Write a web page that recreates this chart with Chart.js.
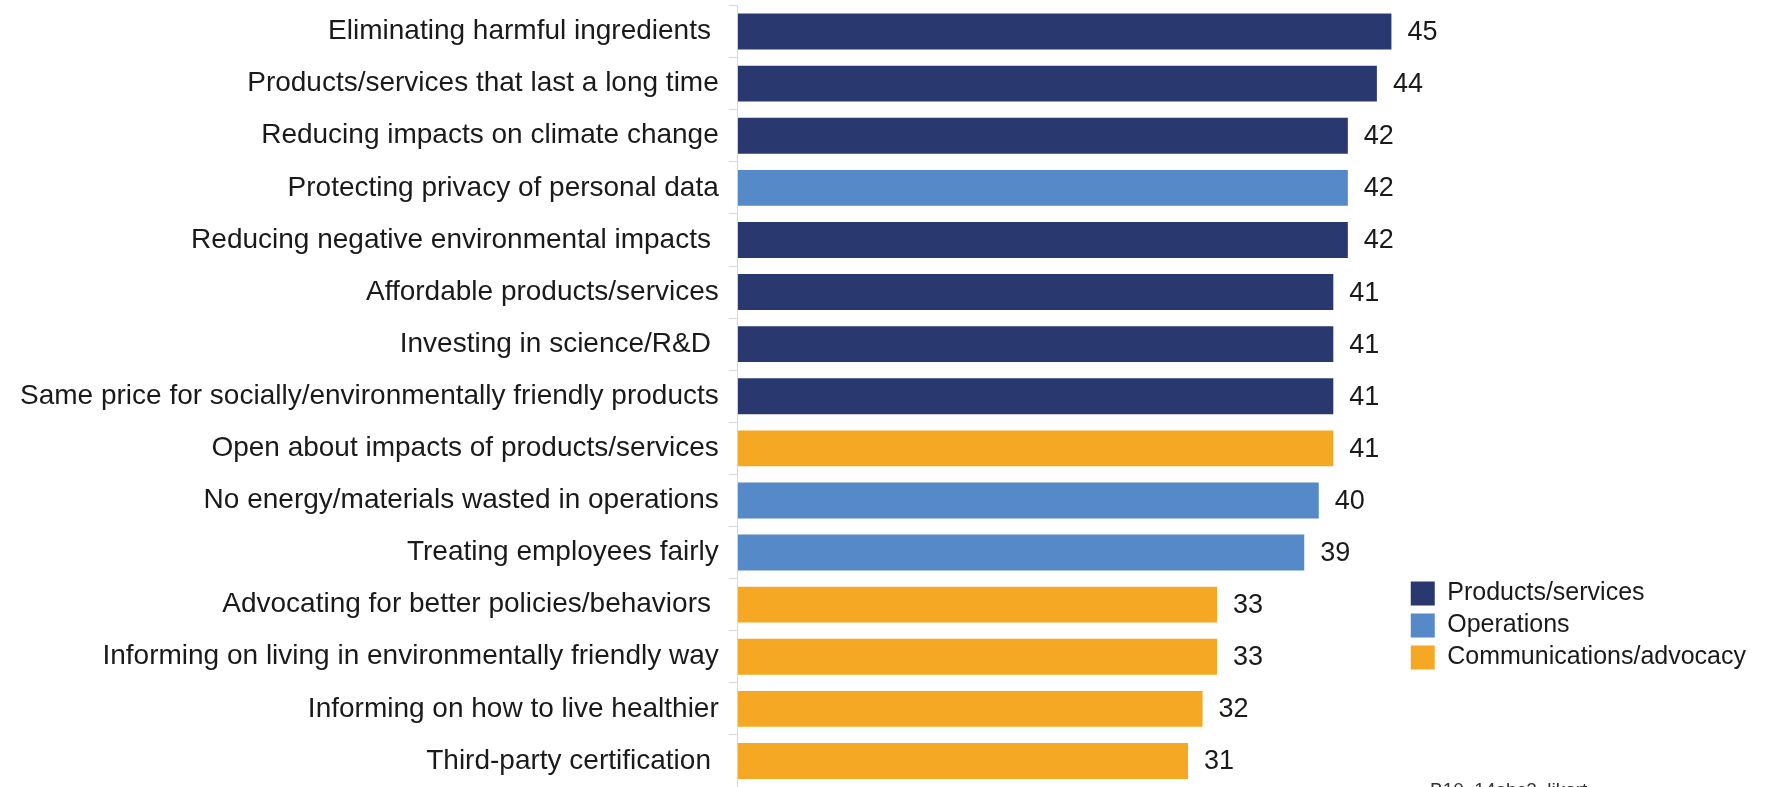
<!DOCTYPE html>
<html>
<head>
<meta charset="utf-8">
<script src="https://cdn.jsdelivr.net/npm/chart.js@4/dist/chart.umd.min.js"></script>
<style>
  html, body { margin: 0; padding: 0; background: #ffffff; }
  #wrap { width: 1768px; height: 787px; position: relative; }
</style>
</head>
<body>
<div id="wrap"><canvas id="chart"></canvas></div>
<script>
// Attributes, in the order they are listed (top to bottom)
const categories = [
  'Eliminating harmful ingredients ',
  'Products/services that last a long time',
  'Reducing impacts on climate change',
  'Protecting privacy of personal data',
  'Reducing negative environmental impacts ',
  'Affordable products/services',
  'Investing in science/R&D ',
  'Same price for socially/environmentally friendly products',
  'Open about impacts of products/services',
  'No energy/materials wasted in operations',
  'Treating employees fairly',
  'Advocating for better policies/behaviors ',
  'Informing on living in environmentally friendly way',
  'Informing on how to live healthier',
  'Third-party certification '
];

// Percent values per attribute
const values = [45, 44, 42, 42, 42, 41, 41, 41, 41, 40, 39, 33, 33, 32, 31];

// Which area each attribute belongs to
const areas = ['P', 'P', 'P', 'O', 'P', 'P', 'P', 'P', 'C', 'O', 'O', 'C', 'C', 'C', 'C'];

// Areas shown in the legend
const areaKeys   = ['P', 'O', 'C'];
const areaNames  = ['Products/services', 'Operations', 'Communications/advocacy'];
const areaColors = ['#29386f', '#5589c8', '#f5a823'];

const footnote = 'B10_14abc2_likert';

const FONT = "'Liberation Sans', Arial, sans-serif";
const LABEL_SIZE = 28;
const LABEL_PAD = 10;
const TICK_LEN = 9;

// One dataset per area; attributes of other areas are left empty
const datasets = areaKeys.map((key, i) => ({
  label: areaNames[i],
  data: values.map((v, j) => (areas[j] === key ? v : null)),
  backgroundColor: areaColors[i],
  borderWidth: 0,
  grouped: false,
  barPercentage: 0.69,
  categoryPercentage: 1.0
}));

// Writes the value to the right of each bar
const valueLabels = {
  id: 'valueLabels',
  afterDatasetsDraw(chart) {
    const ctx = chart.ctx;
    ctx.save();
    ctx.font = '27px ' + FONT;
    ctx.fillStyle = '#1a1a1a';
    ctx.textAlign = 'left';
    ctx.textBaseline = 'middle';
    chart.data.datasets.forEach((ds, di) => {
      const meta = chart.getDatasetMeta(di);
      meta.data.forEach((bar, j) => {
        const v = ds.data[j];
        if (v === null || v === undefined) return;
        ctx.fillText(String(v), bar.x + 16, bar.y + 1);
      });
    });
    ctx.restore();
  }
};

// Lowers the legend block so it sits beside the lower bars
const legendPlacement = {
  id: 'legendPlacement',
  afterLayout(chart) {
    if (chart.legend) {
      chart.legend.bottom = 677;
    }
  }
};

// Source code line along the lower edge
const footnoteText = {
  id: 'footnoteText',
  afterDraw(chart) {
    const ctx = chart.ctx;
    ctx.save();
    ctx.font = '19px ' + FONT;
    ctx.fillStyle = '#333333';
    ctx.textAlign = 'left';
    ctx.textBaseline = 'alphabetic';
    ctx.fillText(footnote, 1430, 796);
    ctx.restore();
  }
};

Chart.defaults.font.family = FONT;
Chart.defaults.color = '#1a1a1a';

new Chart(document.getElementById('chart'), {
  type: 'bar',
  data: { labels: categories, datasets: datasets },
  options: {
    indexAxis: 'y',
    responsive: true,
    maintainAspectRatio: false,
    animation: false,
    layout: { padding: { left: 20, top: 5.5, right: 12, bottom: 0 } },
    scales: {
      x: {
        display: false,
        min: 0,
        max: 45.85
      },
      y: {
        grid: {
          drawOnChartArea: false,
          color: '#d9d9d9',
          tickLength: TICK_LEN,
          offset: true
        },
        border: { color: '#d9d9d9', width: 1 },
        ticks: {
          padding: LABEL_PAD,
          color: '#1a1a1a',
          font: { size: LABEL_SIZE },
          autoSkip: false
        },
        // Give the axis room for its longest label and let the bands run edge to edge
        afterFit(scale) {
          const ctx = scale.ctx;
          ctx.save();
          ctx.font = LABEL_SIZE + 'px ' + FONT;
          const widest = Math.max(...categories.map(c => ctx.measureText(c).width));
          ctx.restore();
          scale.width = widest + LABEL_PAD + TICK_LEN;
          scale.paddingTop = 0;
          scale.paddingBottom = 0;
        }
      }
    },
    plugins: {
      legend: {
        position: 'right',
        align: 'end',
        labels: {
          boxWidth: 24,
          boxHeight: 24,
          padding: 7,
          color: '#1a1a1a',
          font: { size: 25 }
        }
      },
      tooltip: { enabled: false }
    }
  },
  plugins: [valueLabels, legendPlacement, footnoteText]
});
</script>
</body>
</html>
